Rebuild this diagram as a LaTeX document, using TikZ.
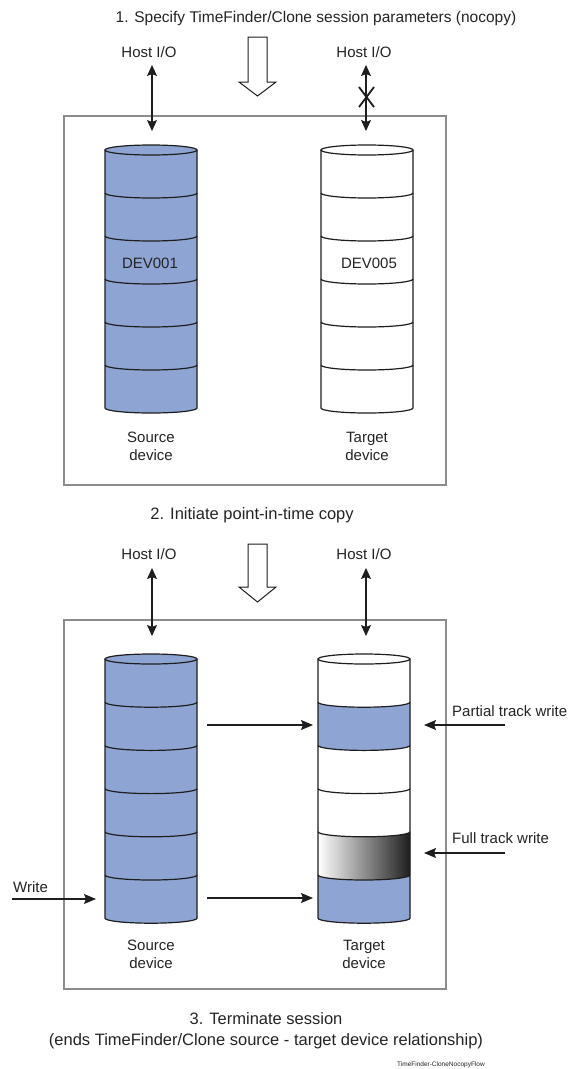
\documentclass[tikz,border=0pt]{standalone}
\usepackage{fontspec}
\setmainfont{Liberation Sans}
\usetikzlibrary{arrows.meta}
\definecolor{blu}{RGB}{142,165,211}
\definecolor{boxgray}{RGB}{140,140,140}
\definecolor{ink}{RGB}{30,30,30}
\definecolor{txt}{RGB}{35,35,35}

\newcommand\mycyl[4]{%
 \fill[#4] (#1-46,#2) -- (#1-46,#2-6*#3) arc[start angle=180,end angle=360,x radius=46,y radius=5] -- (#1+46,#2) arc[start angle=0,end angle=180,x radius=46,y radius=5] -- cycle;}
\newcommand\myband[4]{%
 \fill[#4] (#1-46,#2) arc[start angle=180,end angle=360,x radius=46,y radius=5] -- (#1+46,#2-#3) arc[start angle=0,end angle=-180,x radius=46,y radius=5] -- cycle;}
\newcommand\mycyllines[3]{%
 \draw[cylline] (#1,#2) ellipse[x radius=46,y radius=5];
 \draw[cylline] (#1-46,#2) -- (#1-46,#2-6*#3) arc[start angle=180,end angle=360,x radius=46,y radius=5] -- (#1+46,#2);
 \foreach \k in {1,...,5}{\draw[cylline] (#1-46,#2-\k*#3) arc[start angle=180,end angle=360,x radius=46,y radius=5];}}

\begin{document}
\begin{tikzpicture}[x=1pt,y=1pt,
  lbl/.style={font=\fontsize{15}{18}\selectfont, text=txt, inner sep=0pt, align=center},
  ttl/.style={font=\fontsize{16.5}{21}\selectfont, text=txt, inner sep=0pt, align=center},
  panel/.style={draw=boxgray, line width=1.3pt},
  cylline/.style={draw=ink, line width=1.2pt},
  dbl/.style={draw=ink, line width=1.1pt, {Stealth[length=11pt,width=10pt,inset=2pt]}-{Stealth[length=11pt,width=10pt,inset=2pt]}},
  arr/.style={draw=ink, line width=1.1pt, -{Stealth[length=12pt,width=10pt,inset=2pt]}},
  blockarrow/.style={draw=ink, line width=1pt, fill=white, line join=miter}]
\useasboundingbox (0,0) rectangle (569,-1069);

% ---------- Panel 1 ----------
\node[ttl, font=\fontsize{15.5}{19}\selectfont] (t1) at (316,-18) {1. Specify TimeFinder/Clone session parameters (nocopy)};
\draw[panel] (64,-116) rectangle (446,-485);
\draw[blockarrow] (248,-37) -- (267,-37) -- (267,-82) -- (276,-82) -- (257.5,-96) -- (239,-82) -- (248,-82) -- cycle;

\node[lbl] (hA) at (149,-52) {Host I/O};
\node[lbl] (hB) at (364,-52) {Host I/O};
\coordinate (hAt) at (152,-65); \coordinate (hAb) at (152,-131);
\coordinate (hBt) at (366,-65); \coordinate (hBb) at (366,-131);
\draw[dbl] (hAt) -- (hAb);
\draw[dbl] (hBt) -- (hBb);
\draw[ink, line width=1.8pt] (359,-87) -- (374,-107) (374,-87) -- (359,-107);

\mycyl{151}{-150}{43}{blu}
\mycyllines{151}{-150}{43}
\mycyl{367}{-150}{43}{white}
\mycyllines{367}{-150}{43}
\node[lbl] (d1) at (150,-263) {DEV001};
\node[lbl] (d5) at (369,-263) {DEV005};
\node[lbl] (s1) at (151,-446) {Source\\device};
\node[lbl] (g1) at (367,-446) {Target\\device};

% ---------- Panel 2 ----------
\node[ttl] (t2) at (252,-515) {2. Initiate point-in-time copy};
\draw[panel] (64,-620) rectangle (446,-989);
\draw[blockarrow] (248,-544) -- (267,-544) -- (267,-587) -- (276,-587) -- (257.5,-602) -- (239,-587) -- (248,-587) -- cycle;

\node[lbl] (hC) at (149,-554) {Host I/O};
\node[lbl] (hD) at (364,-554) {Host I/O};
\coordinate (hCt) at (152,-568); \coordinate (hCb) at (152,-636);
\coordinate (hDt) at (366,-568); \coordinate (hDb) at (366,-636);
\draw[dbl] (hCt) -- (hCb);
\draw[dbl] (hDt) -- (hDb);

\mycyl{151}{-659}{43.2}{blu}
\mycyllines{151}{-659}{43.2}
\mycyl{364}{-659}{43.2}{white}
\myband{364}{-702.2}{43.2}{blu}
\myband{364}{-831.8}{43.2}{left color=white, right color=black!88}
\myband{364}{-875}{43.2}{blu}
\mycyllines{364}{-659}{43.2}

\coordinate (c1a) at (207,-725); \coordinate (c1b) at (313,-725);
\coordinate (c2a) at (207,-898); \coordinate (c2b) at (313,-898);
\draw[arr] (c1a) -- (c1b);
\draw[arr] (c2a) -- (c2b);

\node[lbl, anchor=west] (pw) at (452,-711) {Partial track write};
\coordinate (pwa) at (505,-725); \coordinate (pwb) at (424,-725);
\draw[arr] (pwa) -- (pwb);
\node[lbl, anchor=west] (fw) at (452,-838) {Full track write};
\coordinate (fwa) at (505,-853); \coordinate (fwb) at (424,-853);
\draw[arr] (fwa) -- (fwb);

\node[lbl, anchor=west] (wr) at (13,-887) {Write};
\coordinate (wra) at (12,-899); \coordinate (wrb) at (96,-899);
\draw[arr] (wra) -- (wrb);

\node[lbl] (s2) at (151,-954) {Source\\device};
\node[lbl] (g2) at (364,-954) {Target\\device};

% ---------- Step 3 ----------
\node[ttl] (t3) at (266,-1030.5) {3. Terminate session\\(ends TimeFinder/Clone source - target device relationship)};
\node[font=\fontsize{6.5}{7}\selectfont, text=txt, inner sep=0pt, anchor=west] (fig) at (397,-1065) {TimeFinder-CloneNocopyFlow};
\end{tikzpicture}
\end{document}
